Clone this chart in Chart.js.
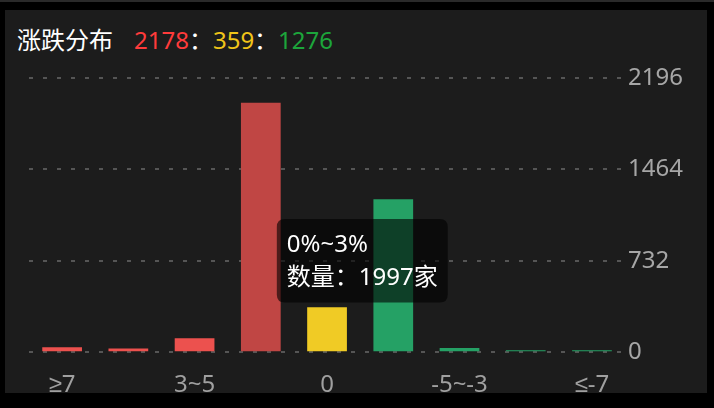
<!DOCTYPE html>
<html>
<head>
<meta charset="utf-8">
<script src="https://cdn.jsdelivr.net/npm/chart.js@4/dist/chart.umd.min.js"></script>
<style>
  html, body { margin: 0; padding: 0; background: #000; }
  #wrap { position: relative; width: 714px; height: 408px; overflow: hidden; }
  #panel { position: absolute; left: 5px; top: 10px; width: 702px; height: 383px; background: #1c1c1c; }
  #topline { position: absolute; left: 0; top: 0; width: 714px; height: 2px; background: #2a2a2a; }
  #title { position: absolute; left: 17px; top: 25px; line-height: 30px; font-size: 24px;
           font-family: 'Noto Sans', 'Liberation Sans', 'Noto Sans CJK SC', sans-serif; color: #fff; white-space: nowrap; }
  #title .up { color: #ff3b3b; margin-left: 21px; }
  #title .flat { color: #f0c419; }
  #title .down { color: #1ca53b; }
  canvas { position: absolute; left: 0; top: 0; }
</style>
</head>
<body>
<div id="wrap">
  <div id="topline"></div>
  <div id="panel"></div>
  <div id="title">涨跌分布<span class="up">2178</span>：<span class="flat">359</span>：<span class="down">1276</span></div>
  <canvas id="dist-chart" width="714" height="429"></canvas>
</div>
<script>
// buckets (percent change), left to right
const categories = ['≥7', '5~7', '3~5', '0~3', '0', '-3~0', '-5~-3', '-7~-5', '≤-7'];
const tipTitles = ['≥7%', '5%~7%', '3%~5%', '0%~3%', '0%', '-3%~0%', '-5%~-3%', '-7%~-5%', '≤-7%'];
const counts = [40, 30, 111, 1997, 359, 1224, 34, 9, 9];
const yTicks = [0, 732, 1464, 2196];

const RED = '#ec514e', RED_HOVER = '#c04644', YELLOW = '#f0cb25', GREEN = '#25a165';
const barColors = counts.map((v, i) => (i < 4 ? RED : i === 4 ? YELLOW : GREEN));
const hoverColors = counts.map((v, i) => (i < 4 ? RED_HOVER : i === 4 ? YELLOW : GREEN));

const FONT = "'Noto Sans', 'Liberation Sans', 'Noto Sans CJK SC', sans-serif";

Chart.Tooltip.positioners.fixedRight = function (elements) {
  if (!elements.length) return false;
  const el = elements[0].element;
  return { x: el.x + 24, y: 219 };
};

const ctx = document.getElementById('dist-chart');
const chart = new Chart(ctx, {
  type: 'bar',
  data: {
    labels: categories,
    datasets: [
      {
        label: '数量',
        data: counts,
        backgroundColor: barColors,
        hoverBackgroundColor: hoverColors,
        borderWidth: 0,
        minBarLength: 2,
        barPercentage: 0.6,
        categoryPercentage: 1,
      },
    ],
  },
  options: {
    responsive: false,
    animation: false,
    events: [],
    layout: { padding: { left: 29, top: 78, right: 28, bottom: 10 } },
    plugins: {
      legend: { display: false },
      tooltip: {
        position: 'fixedRight',
        xAlign: 'left',
        yAlign: 'top',
        caretSize: 0,
        caretPadding: 0,
        cornerRadius: 8,
        padding: { left: 10, right: 10, top: 12, bottom: 10 },
        displayColors: false,
        backgroundColor: 'rgba(0,0,0,0.6)',
        titleColor: '#fff',
        bodyColor: '#fff',
        titleFont: { family: FONT, size: 24, weight: 'normal' },
        bodyFont: { family: FONT, size: 24 },
        titleMarginBottom: 4,
        callbacks: {
          title: (items) => tipTitles[items[0].dataIndex],
          label: (item) => '数量：' + item.raw + '家',
        },
      },
    },
    scales: {
      x: {
        grid: { display: false, drawTicks: false },
        border: { display: false },
        ticks: {
          autoSkip: false,
          maxRotation: 0,
          padding: 19,
          color: '#a0a0a0',
          font: { family: FONT, size: 24 },
          callback: (v, i) => (i % 2 === 0 ? categories[i] : ''),
        },
      },
      y: {
        position: 'right',
        min: 0,
        max: yTicks[yTicks.length - 1],
        afterBuildTicks: (axis) => { axis.ticks = yTicks.map((v) => ({ value: v })); },
        grid: { color: '#555', lineWidth: 2, drawTicks: false },
        border: { display: false, dash: [4, 10] },
        ticks: {
          padding: 3,
          color: '#a6a6a6',
          font: { family: FONT, size: 24 },
          callback: (v) => String(v),
        },
      },
    },
  },
});

chart.setActiveElements([{ datasetIndex: 0, index: 3 }]);
chart.tooltip.setActiveElements([{ datasetIndex: 0, index: 3 }], { x: 0, y: 0 });
chart.update('none');
</script>
</body>
</html>
